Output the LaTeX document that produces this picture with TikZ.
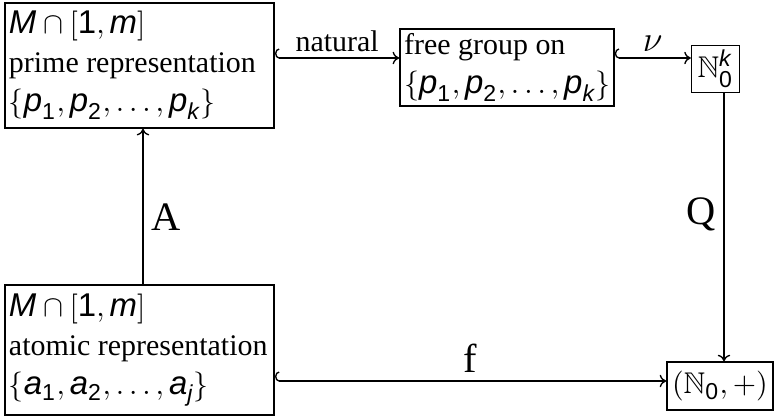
\documentclass[tikz,border=0pt]{standalone}
\usepackage{amsmath,amssymb}
\usepackage{fontspec}
\setmainfont{Liberation Serif}
\newfontfamily\hvfont[Scale=1.1]{Liberation Sans}
\newcommand\sv[1]{\text{\hvfont\itshape #1}}
\newcommand\sn[1]{\text{\hvfont #1}}
\usetikzlibrary{arrows.meta,calc}
\begin{document}
\begin{tikzpicture}[x=0.334pt,y=-0.334pt,
  font=\fontsize{10}{13}\selectfont,
  box/.style={draw, line width=0.5pt, align=flush left, inner xsep=1.4pt, inner ysep=1.5pt},
  conn/.style={line width=0.45pt, -{To[length=2.2pt,width=4.2pt]}},
  hooked/.style={line width=0.45pt, {Hooks[right,length=1.4pt,width=6.4pt]}-{To[length=2.2pt,width=4.2pt]}},
  lbl/.style={inner sep=2pt},
  biglbl/.style={inner sep=2.5pt, font=\fontsize{13.5}{15}\selectfont}]
\useasboundingbox (0,0) rectangle (777,418);
\coordinate (toprow) at (0,58);
\coordinate (botrow) at (0,381);
\node[box, text width=87.2pt, minimum height=41.8pt] (b1) at (139.5,65.5)
  {$\sv{M}\cap[\sn{1},\sv{m}]$\\prime representation\\$\{\sv{p}_{\sn{1}},\sv{p}_{\sn{2}},\ldots,\sv{p}_{\sv{k}}\}$};
\node[box, text width=68.7pt, minimum height=25pt] (b2) at (507,67.5)
  {free group on\\$\{\sv{p}_{\sn{1}},\sv{p}_{\sn{2}},\ldots,\sv{p}_{\sv{k}}\}$};
\node[box, align=center, minimum width=14.6pt, minimum height=14pt, inner xsep=2pt, inner ysep=1.6pt] (b3) at (715.5,69)
  {$\mathbb{N}_{\sn{0}}^{\sv{k}}$};
\node[box, text width=87.2pt, minimum height=43.4pt] (b4) at (139.5,350)
  {$\sv{M}\cap[\sn{1},\sv{m}]$\\atomic representation\\$\{\sv{a}_{\sn{1}},\sv{a}_{\sn{2}},\ldots,\sv{a}_{\sv{j}}\}$};
\node[box, align=center, minimum width=35.4pt, minimum height=16pt, inner sep=1pt] (b5) at (720,386)
  {$(\mathbb{N}_{\sn{0}},+)$};
\draw[hooked] (b1.east |- toprow) -- node[lbl, above] {natural} (b2.west |- toprow);
\draw[hooked] (b2.east |- toprow) -- node[lbl, above, font=\fontsize{13}{15}\selectfont] {$\nu$} (b3.west |- toprow);
\draw[conn] (b3.south -| 724,0) -- node[biglbl, left, pos=0.45] {Q} (b5.north -| 724,0);
\draw[conn] (b4.north -| 143,0) -- node[biglbl, right, pos=0.43] {A} (b1.south -| 143,0);
\draw[hooked] (b4.east |- botrow) -- node[biglbl, above] {f} (b5.west |- botrow);
\end{tikzpicture}
\end{document}
